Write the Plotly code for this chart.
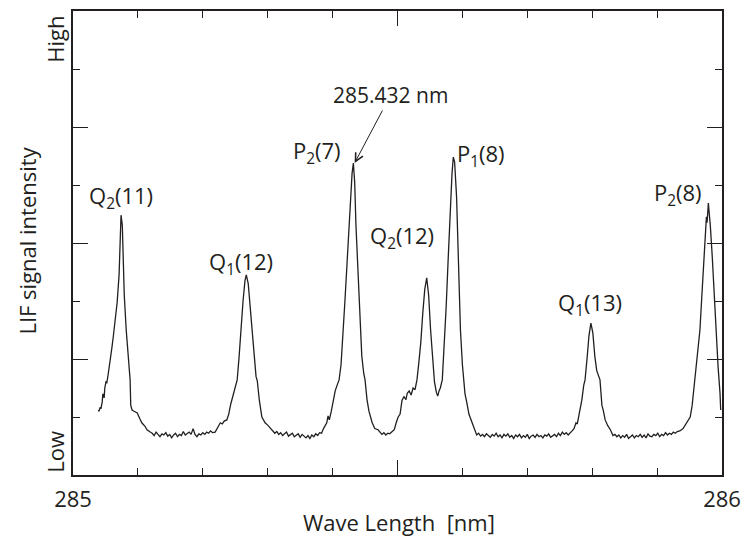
import plotly.graph_objects as go

# ---- data (wavelength offset from 285 nm, LIF intensity in tick units) ----
peak_q2_11 = [(0.039, 1.12), (0.040, 1.10), (0.042, 1.17), (0.043, 1.14), (0.045, 1.26), (0.046, 1.40),
              (0.048, 1.33), (0.049, 1.50), (0.051, 1.62), (0.052, 1.58), (0.054, 1.72), (0.057, 1.93),
              (0.060, 2.20), (0.062, 2.38), (0.065, 2.65), (0.068, 2.97), (0.071, 3.45), (0.072, 3.93),
              (0.074, 4.48), (0.076, 4.30), (0.077, 3.70), (0.079, 3.10), (0.082, 2.50), (0.085, 2.00),
              (0.088, 1.64), (0.089, 1.20), (0.091, 1.12), (0.094, 1.10), (0.099, 1.07), (0.103, 0.97),
              (0.106, 0.90), (0.111, 0.84), (0.114, 0.78), (0.119, 0.74)]
baseline_1 = [(0.122, 0.72), (0.125, 0.68), (0.128, 0.74), (0.131, 0.70), (0.134, 0.66), (0.137, 0.71),
              (0.140, 0.69), (0.143, 0.73), (0.146, 0.67), (0.149, 0.70), (0.152, 0.64), (0.155, 0.69),
              (0.158, 0.72), (0.161, 0.66), (0.164, 0.70), (0.167, 0.68), (0.170, 0.75), (0.173, 0.69),
              (0.176, 0.71), (0.179, 0.74), (0.182, 0.70), (0.185, 0.80), (0.188, 0.70), (0.191, 0.66),
              (0.194, 0.71), (0.197, 0.69), (0.200, 0.73), (0.203, 0.70), (0.206, 0.74), (0.209, 0.72),
              (0.212, 0.76), (0.215, 0.73)]
peak_q1_12 = [(0.219, 0.74), (0.222, 0.80), (0.225, 0.86), (0.227, 0.90), (0.230, 0.88), (0.233, 0.93),
              (0.237, 0.95), (0.240, 1.05), (0.243, 1.22), (0.246, 1.34), (0.249, 1.50), (0.253, 1.64),
              (0.256, 2.05), (0.259, 2.55), (0.262, 3.00), (0.265, 3.35), (0.267, 3.45), (0.270, 3.30),
              (0.273, 2.90), (0.276, 2.35), (0.279, 1.95), (0.282, 1.70), (0.284, 1.62), (0.287, 1.30),
              (0.291, 1.00), (0.296, 0.90), (0.300, 0.86), (0.305, 0.80)]
baseline_2 = [(0.308, 0.76), (0.311, 0.72), (0.314, 0.75), (0.317, 0.70), (0.320, 0.73), (0.323, 0.68),
              (0.326, 0.71), (0.329, 0.74), (0.332, 0.67), (0.335, 0.70), (0.338, 0.72), (0.341, 0.66),
              (0.344, 0.69), (0.347, 0.71), (0.350, 0.65), (0.353, 0.70), (0.356, 0.67), (0.359, 0.64),
              (0.362, 0.68), (0.365, 0.63), (0.368, 0.69), (0.371, 0.66), (0.374, 0.71), (0.377, 0.68),
              (0.380, 0.73), (0.383, 0.72)]
peak_p2_7 = [(0.386, 0.80), (0.389, 0.86), (0.391, 0.90), (0.393, 1.02), (0.395, 0.95), (0.398, 1.10),
             (0.401, 1.30), (0.404, 1.45), (0.407, 1.55), (0.410, 1.64), (0.413, 1.90), (0.416, 2.40),
             (0.419, 3.00), (0.422, 3.60), (0.425, 4.20), (0.428, 4.90), (0.430, 5.20), (0.432, 5.38),
             (0.434, 5.05), (0.436, 4.30), (0.440, 3.30), (0.443, 2.60), (0.445, 2.05), (0.448, 1.75),
             (0.450, 1.64), (0.453, 1.30), (0.456, 1.10), (0.461, 0.90), (0.465, 0.80), (0.470, 0.78)]
baseline_3 = [(0.473, 0.74), (0.476, 0.70), (0.479, 0.73), (0.482, 0.69), (0.485, 0.72), (0.488, 0.71),
              (0.491, 0.74)]
peak_q2_12_p1_8 = [(0.495, 0.78), (0.498, 0.90), (0.501, 1.00), (0.504, 1.05), (0.507, 1.29), (0.510, 1.35),
                   (0.513, 1.30), (0.515, 1.41), (0.518, 1.45), (0.521, 1.38), (0.524, 1.50), (0.527, 1.47),
                   (0.530, 1.64), (0.533, 1.95), (0.536, 2.30), (0.539, 2.80), (0.542, 3.20), (0.545, 3.40),
                   (0.548, 3.10), (0.551, 2.50), (0.554, 1.95), (0.557, 1.60), (0.560, 1.42), (0.562, 1.36),
                   (0.564, 1.45), (0.566, 1.50), (0.569, 1.64), (0.572, 2.20), (0.575, 2.90), (0.578, 3.70),
                   (0.581, 4.50), (0.584, 5.20), (0.586, 5.48), (0.588, 5.40), (0.591, 4.80), (0.594, 3.60),
                   (0.597, 2.50), (0.600, 1.90), (0.602, 1.64), (0.604, 1.40), (0.607, 1.24), (0.610, 1.05),
                   (0.615, 0.90), (0.619, 0.78), (0.622, 0.69)]
baseline_4 = [(0.625, 0.72), (0.628, 0.67), (0.631, 0.70), (0.634, 0.66), (0.637, 0.71), (0.640, 0.68),
              (0.643, 0.65), (0.646, 0.70), (0.649, 0.67), (0.652, 0.72), (0.655, 0.66), (0.658, 0.69),
              (0.661, 0.64), (0.664, 0.70), (0.667, 0.67), (0.670, 0.71), (0.673, 0.65), (0.676, 0.68),
              (0.679, 0.63), (0.682, 0.69), (0.685, 0.66), (0.688, 0.70), (0.691, 0.64), (0.694, 0.68),
              (0.697, 0.65), (0.700, 0.70), (0.703, 0.63), (0.706, 0.67), (0.709, 0.69), (0.712, 0.65),
              (0.715, 0.70), (0.718, 0.66), (0.721, 0.68), (0.724, 0.64), (0.727, 0.69), (0.730, 0.67),
              (0.733, 0.71), (0.736, 0.65), (0.739, 0.68), (0.742, 0.70), (0.745, 0.66), (0.748, 0.72),
              (0.751, 0.68), (0.754, 0.74), (0.757, 0.70), (0.760, 0.73), (0.763, 0.69)]
peak_q1_13 = [(0.766, 0.72), (0.769, 0.76), (0.772, 0.80), (0.775, 0.90), (0.777, 0.88), (0.780, 1.05),
              (0.783, 1.25), (0.784, 1.29), (0.787, 1.55), (0.789, 1.64), (0.792, 2.00), (0.795, 2.40),
              (0.798, 2.62), (0.801, 2.45), (0.804, 2.05), (0.807, 1.80), (0.812, 1.64), (0.815, 1.20),
              (0.817, 1.12), (0.820, 0.95), (0.824, 0.85), (0.828, 0.78), (0.832, 0.68)]
baseline_5 = [(0.835, 0.70), (0.838, 0.66), (0.841, 0.69), (0.844, 0.64), (0.847, 0.68), (0.850, 0.65),
              (0.853, 0.70), (0.856, 0.63), (0.859, 0.67), (0.862, 0.69), (0.865, 0.64), (0.868, 0.68),
              (0.871, 0.66), (0.874, 0.70), (0.877, 0.65), (0.880, 0.69), (0.883, 0.64), (0.886, 0.71),
              (0.889, 0.67), (0.892, 0.66), (0.895, 0.70), (0.898, 0.68), (0.901, 0.72), (0.904, 0.66),
              (0.907, 0.70), (0.910, 0.68), (0.913, 0.73), (0.916, 0.69), (0.919, 0.72), (0.922, 0.70),
              (0.925, 0.74), (0.928, 0.72), (0.931, 0.75)]
peak_p2_8 = [(0.935, 0.76), (0.940, 0.80), (0.943, 0.85), (0.948, 0.95), (0.951, 1.00), (0.954, 1.20),
             (0.957, 1.50), (0.958, 1.70), (0.961, 2.00), (0.964, 2.30), (0.966, 2.50), (0.969, 3.10),
             (0.972, 3.60), (0.975, 4.20), (0.976, 4.45), (0.977, 4.35), (0.979, 4.69), (0.980, 4.55),
             (0.982, 4.30), (0.985, 3.76), (0.988, 3.10), (0.989, 2.72), (0.992, 2.20), (0.994, 1.86),
             (0.997, 1.40), (0.998, 1.12)]

WL_BASE = 285.0
segments = [peak_q2_11, baseline_1, peak_q1_12, baseline_2, peak_p2_7, baseline_3,
            peak_q2_12_p1_8, baseline_4, peak_q1_13, baseline_5, peak_p2_8]

# peak labels: (text, wavelength, intensity at label centre)
peak_labels = [("Q<sub>2</sub>(11)", 285.074, 4.80),
               ("Q<sub>1</sub>(12)", 285.259, 3.65),
               ("P<sub>2</sub>(7)", 285.376, 5.57),
               ("Q<sub>2</sub>(12)", 285.507, 4.10),
               ("P<sub>1</sub>(8)", 285.629, 5.52),
               ("Q<sub>1</sub>(13)", 285.797, 2.95),
               ("P<sub>2</sub>(8)", 285.932, 4.85)]
marked_line_nm = 285.432
marked_line_y = 5.38

x_ticks = [285, 285.5, 286]
x_ticktext = ["285", "", "286"]

wavelength = [WL_BASE + p[0] for seg in segments for p in seg]
intensity = [p[1] for seg in segments for p in seg]

FONT = "Open Sans"
INK = "#231f20"
FS = 22

fig = go.Figure()
fig.add_trace(go.Scatter(x=wavelength, y=intensity, mode="lines",
                         line=dict(color=INK, width=1.3), showlegend=False, hoverinfo="skip"))

for txt, xv, yv in peak_labels:
    fig.add_annotation(x=xv, y=yv, text=txt, showarrow=False,
                       font=dict(family=FONT, size=FS, color=INK), xanchor="center", yanchor="middle")

fig.add_annotation(x=marked_line_nm + 0.002, y=marked_line_y, text="285.432 nm",
                   showarrow=True, ax=36, ay=-68, arrowhead=5, arrowsize=1.6, arrowwidth=1,
                   arrowcolor=INK, font=dict(family=FONT, size=21, color=INK))

# y-axis words
fig.add_annotation(xref="paper", yref="paper", x=-0.028, y=0.05, text="Low", textangle=-90,
                   showarrow=False, font=dict(family=FONT, size=FS, color=INK),
                   xanchor="center", yanchor="middle")
fig.add_annotation(xref="paper", yref="paper", x=-0.028, y=0.94, text="High", textangle=-90,
                   showarrow=False, font=dict(family=FONT, size=FS, color=INK),
                   xanchor="center", yanchor="middle")
fig.add_annotation(xref="paper", yref="paper", x=-0.071, y=0.505, text="LIF signal intensity",
                   textangle=-90, showarrow=False, font=dict(family=FONT, size=FS, color=INK),
                   xanchor="center", yanchor="middle")
fig.add_annotation(xref="paper", yref="paper", x=0.503, y=-0.101, text="Wave Length  [nm]",
                   showarrow=False, font=dict(family=FONT, size=FS, color=INK),
                   xanchor="center", yanchor="middle")

fig.update_xaxes(range=[285, 286], showline=True, linecolor=INK, linewidth=1.5, mirror="allticks",
                 ticks="inside", tickvals=x_ticks, ticktext=x_ticktext, ticklen=15, tickwidth=1.3,
                 tickcolor=INK, showgrid=False, zeroline=False, automargin=False,
                 ticklabelstandoff=4,
                 tickfont=dict(family=FONT, size=FS, color=INK),
                 minor=dict(ticks="inside", dtick=0.1, tick0=285, ticklen=7, tickwidth=1.3,
                            tickcolor=INK, showgrid=False))
fig.update_yaxes(range=[0, 8], showline=True, linecolor=INK, linewidth=1.5, mirror="allticks",
                 ticks="inside", tickvals=[2, 4, 6], ticklen=15, tickwidth=1.3, tickcolor=INK,
                 showticklabels=False, showgrid=False, zeroline=False, automargin=False,
                 minor=dict(ticks="inside", dtick=1, tick0=0, ticklen=7, tickwidth=1.3,
                            tickcolor=INK, showgrid=False))

fig.update_layout(width=745, height=536, margin=dict(l=73, r=23, t=11, b=61, autoexpand=False),
                  plot_bgcolor="white", paper_bgcolor="white", showlegend=False,
                  font=dict(family=FONT, size=FS, color=INK))

fig.write_html("out.html")
